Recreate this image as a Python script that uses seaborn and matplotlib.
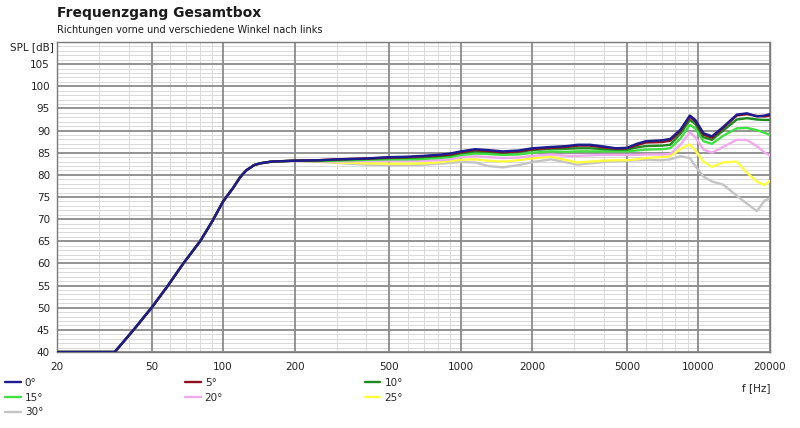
import numpy as np
import pandas as pd
import matplotlib
matplotlib.use("Agg")
import matplotlib.pyplot as plt
import matplotlib.ticker as mticker
import seaborn as sns

# ---- Daten ----
# gemeinsamer Tieftonbereich (alle Winkel identisch)
FREQ_LOW = [20, 35, 42, 50, 58.6, 68, 80, 90, 100, 110, 118, 125, 135, 143, 160, 180, 200]
SPL_LOW = [40, 40, 45, 50, 55, 60, 65, 69.5, 74, 77, 79.5, 81, 82.2, 82.6, 83.0, 83.1, 83.2]

FREQ_HIGH = [250, 300, 400, 500, 600, 700, 800, 900, 1000, 1150, 1300, 1500, 1750, 2000,
             2400, 2800, 3100, 3500, 4000, 4500, 5000, 5500, 6000, 7000, 7600, 8400, 9200,
             9700, 10500, 11400, 12700, 14500, 16000, 17600, 19000, 20000]

SPL_0 = [83.3, 83.5, 83.7, 84.0, 84.1, 84.3, 84.5, 84.8, 85.3, 85.8, 85.6, 85.3, 85.5, 86.0,
         86.3, 86.5, 86.8, 86.8, 86.4, 86.0, 86.1, 87.0, 87.6, 87.8, 88.1, 90.2, 93.4,
         92.4, 89.4, 88.7, 90.8, 93.6, 93.9, 93.2, 93.4, 93.7]
SPL_5 = [83.3, 83.5, 83.7, 83.9, 84.0, 84.2, 84.4, 84.6, 85.1, 85.6, 85.4, 85.1, 85.3, 85.8,
         86.1, 86.3, 86.6, 86.6, 86.2, 85.9, 86.0, 86.7, 87.3, 87.4, 87.7, 89.9, 93.1,
         92.1, 89.1, 88.4, 90.6, 93.4, 93.7, 93.3, 93.2, 93.4]
SPL_10 = [83.2, 83.4, 83.6, 83.8, 83.9, 84.0, 84.2, 84.4, 84.9, 85.3, 85.2, 85.0, 85.2, 85.6,
          85.9, 85.9, 86.0, 86.0, 85.8, 85.7, 85.7, 86.2, 86.5, 86.6, 86.8, 89.3, 92.4,
          91.5, 88.5, 87.9, 90.0, 92.5, 92.8, 92.5, 92.4, 92.4]
SPL_15 = [83.1, 83.2, 83.4, 83.5, 83.5, 83.6, 83.8, 84.0, 84.5, 84.8, 84.7, 84.5, 84.6, 85.0,
          85.3, 85.2, 85.3, 85.3, 85.3, 85.3, 85.3, 85.5, 85.7, 85.8, 86.0, 88.2, 91.3,
          90.5, 87.6, 87.0, 88.8, 90.5, 90.6, 90.1, 89.5, 89.0]
SPL_20 = [83.0, 83.0, 83.1, 83.2, 83.2, 83.2, 83.3, 83.5, 84.0, 84.2, 84.0, 83.8, 83.9, 84.3,
          84.6, 84.3, 84.3, 84.4, 84.5, 84.5, 84.5, 84.5, 84.6, 84.6, 84.7, 86.8, 89.6,
          88.5, 85.7, 85.0, 86.3, 87.9, 87.9, 86.5, 85.0, 84.4]
SPL_25 = [83.0, 82.8, 82.6, 82.5, 82.5, 82.6, 82.8, 83.1, 83.4, 83.5, 83.2, 83.0, 83.3, 83.7,
          84.1, 83.3, 82.8, 83.0, 83.2, 83.3, 83.3, 83.5, 83.8, 84.0, 84.2, 85.8, 86.9,
          85.5, 83.0, 81.8, 82.8, 83.0, 80.5, 78.5, 77.7, 78.6]
SPL_30 = [83.0, 82.7, 82.3, 82.2, 82.2, 82.3, 82.5, 82.7, 82.9, 82.8, 82.0, 81.7, 82.2, 82.9,
          83.5, 82.8, 82.3, 82.6, 82.9, 83.1, 83.2, 83.3, 83.4, 83.3, 83.5, 84.2, 83.8,
          82.0, 79.6, 78.5, 77.8, 75.3, 73.5, 71.8, 74.2, 74.7]

ANGLES = ["0°", "5°", "10°", "15°", "20°", "25°", "30°"]
SERIES = [SPL_0, SPL_5, SPL_10, SPL_15, SPL_20, SPL_25, SPL_30]
COLORS = ["#1c1c8e", "#8e0f1f", "#1e8a1e", "#3fe03f", "#f0a8ee", "#ffff40", "#c4c4c4"]

X_MAJOR = [20, 50, 100, 200, 500, 1000, 2000, 5000, 10000, 20000]
X_MINOR = [30, 40, 60, 70, 80, 90, 300, 400, 600, 700, 800, 900,
           3000, 4000, 6000, 7000, 8000, 9000]
Y_MAJOR = list(range(40, 111, 5))
Y_MINOR = [v for v in range(40, 111) if v % 5]

sns.set_theme(style="white")
plt.rcParams["font.family"] = ["DejaVu Sans"]

fig = plt.figure(figsize=(8.0, 4.28), dpi=100)
ax = fig.add_axes([57 / 800, 1 - 352 / 428, 713 / 800, 310 / 428])

# Raster: erst fein, dann grob, damit die groben Linien durchgehend bleiben
for v in Y_MINOR:
    ax.axhline(v, color="#d9d9d9", lw=0.7, zorder=0)
for v in X_MINOR:
    ax.axvline(v, color="#d9d9d9", lw=0.7, zorder=0)
for v in Y_MAJOR:
    ax.axhline(v, color="#8a8a8a", lw=1.3, zorder=1)
for v in X_MAJOR:
    ax.axvline(v, color="#8a8a8a", lw=1.3, zorder=1)

freq = FREQ_LOW + FREQ_HIGH
lines = {}
# 30° zuerst zeichnen, 0° liegt oben
for i in range(len(ANGLES) - 1, -1, -1):
    df = pd.DataFrame({"f": freq, "spl": SPL_LOW + SERIES[i]})
    sns.lineplot(data=df, x="f", y="spl", color=COLORS[i], lw=1.7, ax=ax,
                 sort=False, estimator=None, zorder=3 + len(ANGLES) - i)
    lines[ANGLES[i]] = ax.get_lines()[-1]

ax.set_xscale("log")
ax.set_xlim(20, 20000)
ax.set_ylim(40, 110)
ax.xaxis.set_major_locator(mticker.FixedLocator(X_MAJOR))
ax.xaxis.set_minor_locator(mticker.NullLocator())
ax.xaxis.set_major_formatter(mticker.FixedFormatter([str(v) for v in X_MAJOR]))
ax.yaxis.set_major_locator(mticker.FixedLocator(Y_MAJOR))
ax.yaxis.set_minor_locator(mticker.NullLocator())
ax.yaxis.set_major_formatter(mticker.FuncFormatter(lambda v, p: "" if v > 106 else f"{v:.0f}"))

ax.grid(False)
for s in ax.spines.values():
    s.set_color("#7a7a7a")
    s.set_linewidth(1.0)
ax.tick_params(axis="both", which="major", direction="out", length=3, width=1,
               color="#555555", labelsize=7.5, labelcolor="#222222", pad=2)
ax.tick_params(axis="x", pad=4)
ax.set_xlabel("")
ax.set_ylabel("")

fig.text(57 / 800, 1 - 13 / 428, "Frequenzgang Gesamtbox", fontsize=10,
         fontweight="bold", color="#1a1a1a", va="center", ha="left")
fig.text(57 / 800, 1 - 30 / 428, "Richtungen vorne und verschiedene Winkel nach links",
         fontsize=7, color="#1a1a1a", va="center", ha="left")
fig.text(54 / 800, 1 - 47 / 428, "SPL [dB]", fontsize=7.5, color="#222222",
         va="center", ha="right")
fig.text(770 / 800, 1 - 388 / 428, "f [Hz]", fontsize=7.5, color="#222222",
         va="center", ha="right")

order = ["0°", "15°", "30°", "5°", "20°", "10°", "25°"]
fig.legend([lines[a] for a in order], order, ncol=3, loc="upper left",
           bbox_to_anchor=(5 / 800, 1 - 378 / 428), frameon=False, fontsize=7.5,
           handlelength=1.5, handletextpad=0.4, columnspacing=13.6,
           labelspacing=0.45, borderaxespad=0, borderpad=0)

fig.savefig("out.png", dpi=100)
